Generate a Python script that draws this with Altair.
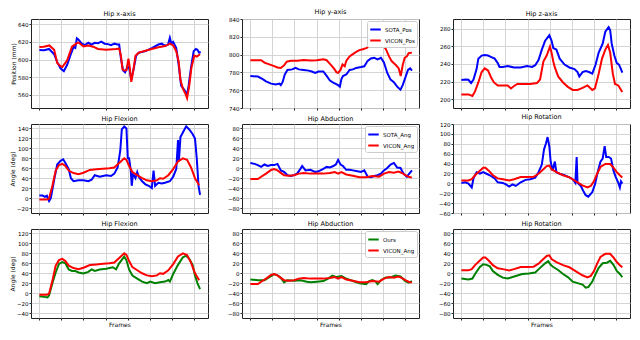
import altair as alt
import pandas as pd

FONT = "DejaVu Sans"
W, H = 177, 89
X_DOMAIN = [-38, 765]
X_TICKS = [0, 100, 200, 300, 400, 500, 600, 700]

BLUE, RED, GREEN = "#0000ff", "#ff0000", "#008000"

# ---------------- Row 1: hip position (mm) ----------------
posx_sota_f = [0,22,44,67,81,96,111,126,141,155,163,170,178,192,207,222,237,251,266,281,296,311,325,340,355,362,370,380,389,399,407,417,429,439,451,481,510,540,555,570,584,592,599,607,621,632,643,658,670,677,688,700,710,717,725,732]
posx_sota_v = [610.8,610.5,612,606,597,590,586.8,594,605,614,613,624,622.5,618,616.3,619,617,619,618.6,620.3,618,617.5,616.3,618,617,617,601,587.5,585.4,591,591.5,577,591,604.4,607.8,609.5,613,617,618,615.6,617,624.7,618,620,613,594,570.5,565.4,560,570,591,609.5,612,611,607.8,608.5]
posx_vicon_f = [0,20,45,67,81,96,104,126,148,170,178,200,222,244,266,303,348,362,370,377,385,395,404,410,417,426,436,451,481,510,540,570,592,607,621,632,640,651,661,670,680,690,703,714,729]
posx_vicon_v = [614.2,614.5,616,611,596,592.5,591.5,599,614.6,618.6,619.3,615,616,614.6,612,611,612,612.5,604.4,589,587.5,588,601,591,574.6,587.5,604.4,607.8,610,612,614,615.3,618,616,609.5,597.6,577,567,562,556,570.5,591,604.4,603.4,606]

posy_sota_f = [0,34,56,71,94,116,131,138,146,156,168,190,205,220,242,264,279,294,309,331,346,361,376,398,406,413,420,435,450,465,480,502,517,532,547,562,577,592,606,621,636,651,666,681,691,703,715,725,733]
posy_sota_v = [776,775.3,772.5,770,767.4,766.4,767.4,765.7,769,777.6,782.8,783.4,785,783.4,782.8,782,781,779.4,781,781,776,770.8,768.5,765.7,764,772.5,776,777.6,782.8,783.4,785,786,786.8,793,795.7,796.4,794.7,796.4,791.3,779.4,771.9,769,764,760.6,765.7,774.2,782.8,784.5,782]
posy_vicon_f = [0,49,64,86,108,123,138,153,165,183,212,242,272,302,331,346,361,379,391,398,409,418,428,435,450,465,480,495,510,525,539,554,569,584,599,614,629,640,651,661,673,682,691,700,710,718,733]
posy_vicon_v = [793.7,793.7,791,789,787,785.5,785,788,792,793,793,794,793.3,793.7,794.7,793.7,789.6,784.5,780,779.4,782.8,789,787,793,798,800.5,803,805,806,807.3,809,811,812.7,812.4,810.7,806.6,798,793,790.3,788,784.5,776,788,796.4,798,801.5,802.2]

posz_sota_f = [0,18,32,44,55,69,77,92,106,121,136,151,165,173,188,210,239,269,298,321,335,350,365,380,399,409,417,431,446,468,490,513,527,535,550,564,579,594,609,623,641,653,668,675,682,694,705,715,724,730]
posz_sota_v = [221.7,222.4,222,218.3,222.4,234.2,246,249.5,250.2,249.5,247.8,246,241,236.6,236.6,237.6,236,236,237.6,236.6,238.6,244.4,256.3,266.4,272.5,266.4,258,256.3,246,239.3,236,234.2,230.8,225.8,230.8,231.9,230.8,229,239.3,252.9,263,276.6,281.7,278.3,263,249.5,241,239.3,234.2,230.2]
posz_vicon_f = [0,32,50,62,77,92,106,121,136,148,165,188,210,225,239,254,284,313,343,357,372,387,402,409,417,424,439,461,483,505,527,550,572,594,606,623,638,653,665,675,687,697,712,730]
posz_vicon_v = [205.4,205.4,203.7,208.8,219,230.8,234.9,232.5,224,219,215.6,215.6,215.6,212.2,215,217.3,217.3,217.3,218.3,222.4,242.7,249.5,259.7,252.9,242.7,236,225.8,219,214,210.5,210.5,212.9,215.6,210.5,212.2,229,246,256.3,261.4,252.9,229,217.3,215.6,208.1]

# ---------------- Angles (deg) ----------------
flex_sota_f = [0,15,25,34,44,52,67,81,96,108,118,133,143,155,178,200,222,237,251,274,303,325,340,355,367,374,385,395,401,407,414,419,425,436,444,451,466,481,496,510,518,525,540,555,570,592,607,621,629,633,640,651,666,680,695,706,714,722,729]
flex_sota_v = [5,5,2.6,5,-6,0,36.9,67.6,75,78,70.7,58.4,40,33.9,35.7,35.7,33.9,36.9,46,43,46,44.3,49.2,61.5,95.2,138,144,140,80,80,58.4,24.7,49.2,40,52.3,43,33.9,27.7,24.7,20,55.3,24.7,30.8,29.6,30.8,33.9,43,58.4,116.7,73.7,122.8,132,144.3,138,129,119.8,80,24.7,6.3]
flex_vicon_f = [0,34,44,59,74,89,104,118,133,155,178,200,229,259,288,318,340,362,385,395,407,422,444,466,488,510,533,547,562,585,607,629,651,670,688,706,725]
flex_vicon_v = [-3,-3,-1,24.7,55.3,66.4,68.8,64.5,55.3,50.4,48,51,56.6,57.8,59,60.2,61.5,70.7,80,76.8,64.5,52.3,46,40,35.7,33.9,35.7,40,38.8,46,58.4,73.7,80,76.8,61.5,40,25.9]
flex_ours_f = [0,22,37,44,59,74,89,104,118,133,148,163,178,200,222,237,251,274,303,333,348,362,385,395,407,422,444,466,488,503,525,547,570,585,592,607,629,651,666,680,695,706,717,729]
flex_ours_v = [-6.2,-7.5,-8.7,-4.3,20.1,41.6,58.7,62.4,60,47.7,44.6,44.6,41.6,39.7,42.8,47.7,44.6,47.7,48.9,52,47.7,60,73.4,66,47.7,35.4,29.3,23.2,20.1,23.2,20.1,22,23.2,26.3,23.2,38.5,56.9,72.2,75.3,69.1,56.9,35.4,20.1,7.9]

abd_sota_f = [0,19,34,49,64,79,94,108,123,138,153,168,183,198,212,227,235,250,272,294,309,331,346,361,376,388,398,409,420,435,450,465,480,502,517,532,547,562,577,592,606,621,636,651,666,681,695,710,721,733]
abd_sota_v = [10.7,8.8,6.4,2.7,7.6,4.5,6.4,6.4,8.8,-4.3,-7.4,-13.9,-15.7,-13.9,-10.8,-1.2,4.5,-4.3,-3.1,-7.4,-6.1,-1.2,2.7,1.5,4.5,7.6,16.8,7.6,4.5,-3.1,-3.1,-4.3,-5.5,-7.4,-4.3,-17,-18.2,-15.7,-13.9,-10.8,-4.3,0.6,7.6,10.7,1.5,0.6,-10.8,-17,-10.8,-4.3]
abd_vicon_f = [0,34,49,71,94,108,123,138,153,175,198,220,242,272,302,331,361,383,398,413,435,465,495,525,554,584,606,629,651,673,688,703,718,733]
abd_vicon_v = [-21.8,-21.8,-17,-10.8,-3.4,-1.6,-4.3,-9.2,-13.9,-15,-13.9,-10.8,-9.6,-10.8,-10.8,-10.8,-9.6,-7.7,-10.8,-7.7,-12.6,-15,-18.2,-18.2,-15.7,-17,-10.8,-7.7,-9,-6.5,-9.6,-13.9,-17,-18.8]
abd_ours_f = [0,34,64,86,108,123,138,153,168,198,227,257,272,302,331,353,372,391,413,435,465,495,525,539,554,569,577,592,614,636,658,681,703,718,733]
abd_ours_v = [-12.6,-13.9,-13.9,-7.7,-1.6,-4.3,-9.2,-18.2,-13.9,-15,-13.9,-17,-18.2,-17,-15.7,-10.8,-4.6,-7.7,-5.8,-10.8,-15.7,-20,-21.8,-15.7,-13.9,-17,-21.8,-13.9,-8.3,-8.3,-4.6,-6.5,-15.7,-18.8,-15.7]

rot_sota_f = [0,18,32,47,55,69,84,99,114,129,151,165,188,202,217,232,247,269,291,313,335,350,365,375,384,391,399,405,414,424,431,446,468,490,505,517,523,527,542,552,564,576,594,606,620,631,641,650,657,668,679,690,700,712,719,724,730]
rot_sota_v = [0.9,2.1,-0.4,-8.4,10,22.5,19.4,22.5,19.4,16.3,10,2.1,0.9,-2.2,-6.5,-2.2,-5.3,2.1,7,8.3,11.4,22.5,38,68.8,81,93.5,75,44,25.6,44,22.5,19.4,16.3,12,8.3,0.9,53.3,0.9,-5.3,-14.6,-23.9,-27,-17.6,-2.2,25.6,44,50.2,75,53.3,53.3,50.2,25.6,13.2,0.9,-8.4,3.7,-0.6]
rot_vicon_f = [0,32,47,62,84,99,109,124,143,165,188,217,239,269,298,328,350,372,387,399,409,431,461,490,520,549,572,587,601,616,631,653,675,690,705,719,730]
rot_vicon_v = [5.8,5.8,8.3,16.3,25.6,31.7,31.7,25.6,16.3,10,8.3,5.8,8.3,12.6,12.6,13.2,19.4,28.6,34.8,36,28.6,22.5,16.3,12,3.9,-4.1,-8.4,-5.3,3.9,19.4,33,39.1,39.1,31.7,22.5,16.3,12]
rot_ours_f = [0,32,50,62,84,99,114,129,143,165,188,210,232,254,276,306,335,357,380,394,405,417,439,461,483,505,527,550,564,576,594,609,623,641,660,675,690,705,719,730]
rot_ours_v = [-10.7,-12.5,-10.7,-1.5,12.6,18.1,16.9,13.8,4.6,-3.3,-8.8,-10.7,-7.6,-4.6,-1.5,-0.3,1.6,10.8,20,24.2,16.9,12.6,6.5,-1.5,-7.6,-16.8,-19.9,-22.9,-29,-27.8,-16.8,-1.5,10.8,20,21.2,24.9,16.9,4.6,-1.5,-7.6]


def panel(title, s1, s2, ydom, yticks, ytitle=None, legend=False, xtitle=None):
    (n1, f1, v1, c1), (n2, f2, v2, c2) = s1, s2
    df = pd.concat([
        pd.DataFrame({"frame": f1, "value": v1, "series": n1}),
        pd.DataFrame({"frame": f2, "value": v2, "series": n2}),
    ], ignore_index=True)

    xaxis_kw = dict(values=X_TICKS, labels=False, grid=True, ticks=True, domain=False, tickSize=2)
    xaxis_kw["title"] = xtitle if xtitle else None
    yaxis_kw = dict(values=yticks, grid=True, ticks=True, domain=False, tickSize=2,
                    format="d", labelPadding=1)
    yaxis_kw["title"] = ytitle if ytitle else None

    if legend:
        leg = alt.Legend(title=None, orient="top-right", offset=2, fillColor="white",
                         strokeColor="#cccccc", padding=2, symbolType="stroke",
                         symbolStrokeWidth=2, symbolSize=110, labelFontSize=5.5,
                         labelFont=FONT, labelColor="black", rowPadding=0,
                         labelOffset=3, cornerRadius=2)
    else:
        leg = None

    color = alt.Color("series:N",
                      scale=alt.Scale(domain=[n1, n2], range=[c1, c2]),
                      legend=leg)
    x = alt.X("frame:Q", scale=alt.Scale(domain=X_DOMAIN, nice=False, zero=False),
              axis=alt.Axis(**xaxis_kw))
    y = alt.Y("value:Q", scale=alt.Scale(domain=ydom, nice=False, zero=False),
              axis=alt.Axis(**yaxis_kw))

    base = alt.Chart(df).mark_line(strokeWidth=2, clip=True).encode(x=x, y=y, color=color)
    l1 = base.transform_filter(alt.datum.series == n1)
    l2 = base.transform_filter(alt.datum.series == n2)
    return alt.layer(l1, l2).properties(
        width=W, height=H,
        title=alt.TitleParams(title, fontSize=6.5, fontWeight="normal", font=FONT,
                              color="black", offset=2),
    )


rows = [
    panel("Hip x-axis", ("SOTA_Pos", posx_sota_f, posx_sota_v, BLUE),
          ("VICON_Pos", posx_vicon_f, posx_vicon_v, RED),
          [545, 646], [560, 580, 600, 620, 640], ytitle="Position (mm)"),
    panel("Hip y-axis", ("SOTA_Pos", posy_sota_f, posy_sota_v, BLUE),
          ("VICON_Pos", posy_vicon_f, posy_vicon_v, RED),
          [740, 840], [740, 760, 780, 800, 820, 840], legend=True),
    panel("Hip z-axis", ("SOTA_Pos", posz_sota_f, posz_sota_v, BLUE),
          ("VICON_Pos", posz_vicon_f, posz_vicon_v, RED),
          [190, 291], [200, 220, 240, 260, 280]),
    panel("Hip Flexion", ("SOTA_Ang", flex_sota_f, flex_sota_v, BLUE),
          ("VICON_Ang", flex_vicon_f, flex_vicon_v, RED),
          [-30, 149], list(range(-20, 141, 20)), ytitle="Angle (deg)"),
    panel("Hip Abduction", ("SOTA_Ang", abd_sota_f, abd_sota_v, BLUE),
          ("VICON_Ang", abd_vicon_f, abd_vicon_v, RED),
          [-90, 89], list(range(-80, 81, 20)), legend=True),
    panel("Hip Rotation", ("SOTA_Ang", rot_sota_f, rot_sota_v, BLUE),
          ("VICON_Ang", rot_vicon_f, rot_vicon_v, RED),
          [-60, 120], list(range(-60, 121, 20))),
    panel("Hip Flexion", ("Ours", flex_ours_f, flex_ours_v, GREEN),
          ("VICON_Ang", flex_vicon_f, flex_vicon_v, RED),
          [-50, 129], list(range(-40, 121, 20)), ytitle="Angle (deg)", xtitle="Frames"),
    panel("Hip Abduction", ("Ours", abd_ours_f, abd_ours_v, GREEN),
          ("VICON_Ang", abd_vicon_f, abd_vicon_v, RED),
          [-90, 89], list(range(-80, 81, 20)), legend=True, xtitle="Frames"),
    panel("Hip Rotation", ("Ours", rot_ours_f, rot_ours_v, GREEN),
          ("VICON_Ang", rot_vicon_f, rot_vicon_v, RED),
          [-90, 89], list(range(-80, 81, 20)), xtitle="Frames"),
]

chart = alt.concat(
    *rows, columns=3, spacing={"row": 16, "column": 34}, bounds="flush", padding=0
).resolve_scale(color="independent").configure_view(
    stroke="#222222", strokeWidth=1
).configure_axis(
    labelFont=FONT, titleFont=FONT, labelFontSize=5.5, titleFontSize=6,
    labelColor="black", titleColor="black", titleFontWeight="normal",
    gridColor="#cfcfcf", gridWidth=0.9, tickColor="#222222", titlePadding=1,
)

chart.save("out.html", embed_options={"renderer": "svg", "actions": False})
